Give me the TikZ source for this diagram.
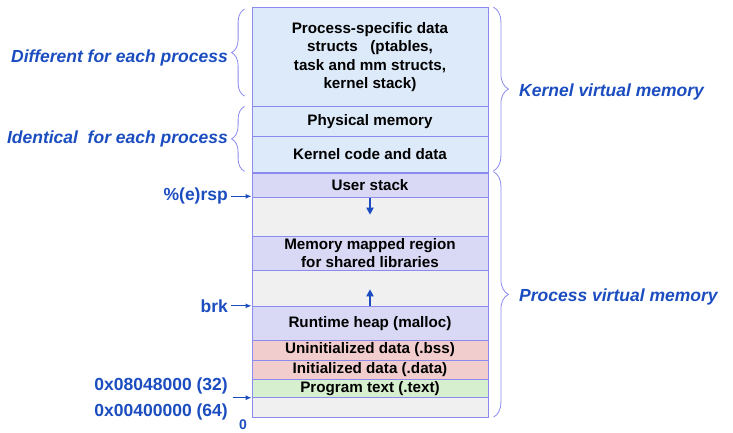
\documentclass[tikz,border=0pt]{standalone}
\usepackage{fontspec}
\setmainfont{Liberation Sans}
\usepackage{tikz}
\usepackage{xcolor}
\usetikzlibrary{arrows.meta, positioning, calc, decorations.pathreplacing}

\definecolor{kernfill}{HTML}{DCEAF9}
\definecolor{userfill}{HTML}{D9D9F5}
\definecolor{gapfill}{HTML}{F0F0F0}
\definecolor{datafill}{HTML}{F2CDCD}
\definecolor{textfill}{HTML}{D6F0CF}
\definecolor{edge}{HTML}{8A8AEF}
\definecolor{lab}{HTML}{1B4DC0}

\tikzset{
  row/.style={draw=edge, line width=0.8pt, minimum width=236, inner sep=0pt,
    align=center, font=\fontsize{15.2}{18.3}\selectfont\bfseries},
  tag/.style={text=lab, inner xsep=2.5pt, inner ysep=0pt,
    font=\fontsize{17.5}{21}\selectfont\bfseries},
  side/.style={tag, font=\fontsize{17.5}{21}\selectfont\bfseries\itshape},
  ptr/.style={-{Latex[length=6pt,width=5pt]}, draw=lab, line width=1.2pt},
  growarrow/.style={-{Triangle[length=7pt,width=7pt]}, draw=lab, line width=1.8pt},
  cbrace/.style={draw=edge, line width=0.8pt, decorate}
}

\begin{document}
\begin{tikzpicture}[x=1pt, y=-1pt]
\useasboundingbox (0,0) rectangle (733,432);

% Memory layout, top to bottom
\foreach \name/\top/\bot/\col/\txt in {
    procdata/7.5/106.7/kernfill/{Process-specific data\\structs\ \ \ (ptables,\\task and mm structs,\\kernel stack)},
    physmem/106.7/136/kernfill/{Physical memory},
    kcode/136/172.5/kernfill/{Kernel code and data},
    ustack/172.5/197.3/userfill/{User stack},
    gapa/197.3/236/gapfill/{},
    mmap/236/270/userfill/{Memory mapped region\\for shared libraries},
    gapb/270/306.7/gapfill/{},
    heap/306.7/340/userfill/{Runtime heap (malloc)},
    bss/340/360/datafill/{Uninitialized data (.bss)},
    idata/360/379.3/datafill/{Initialized data (.data)},
    ptext/379.3/397.3/textfill/{Program text (.text)},
    gapc/397.3/417.3/gapfill/{}} {
    \node[row, fill=\col, minimum height={\bot-\top}] (\name) at (370,{(\top+\bot)/2}) {\txt};
}
\draw[draw=edge, line width=1.8pt] (kcode.south west) -- (kcode.south east);

% Growth arrows
\coordinate (stackend) at ($(ustack.south)+(0,17)$);
\draw[growarrow] (ustack.south) -- (stackend);
\coordinate (heapend) at ($(heap.north)+(0,-17)$);
\draw[growarrow] (heap.north) -- (heapend);

% Pointers on the left
\node[tag, anchor=east] (rsp) at (230.5,196.3) {\%(e)rsp};
\draw[ptr] (rsp.east) -- (rsp.east -| ustack.west);
\node[tag, anchor=east] (brk) at (230.5,305.8) {brk};
\draw[ptr] (brk.east) -- (brk.east -| heap.west);
\node[tag, anchor=east] (addr32) at (230.5,385.5) {0x08048000 (32)};
\node[tag, anchor=east] (addr64) at (230.5,412) {0x00400000 (64)};
\coordinate (addrtail) at ($(ptext.south west)+(-19,0)$);
\draw[ptr] (addrtail) -- (ptext.south west);
\node[text=lab, font=\fontsize{14}{16}\selectfont\bfseries, inner sep=0pt] (zero) at (243,425) {0};

% Braces and their labels
\draw[cbrace, decoration={brace, amplitude=13pt}]
    ($(procdata.south west)+(-7,-11)$) -- ($(procdata.north west)+(-7,2)$);
\node[side, anchor=east] (diff) at (230.5,58) {Different for each process};
\draw[cbrace, decoration={brace, amplitude=13pt}]
    ($(kcode.south west)+(-7,-1.5)$) -- ($(physmem.north west)+(-7,0)$);
\node[side, anchor=east] (ident) at (230.5,138.5) {Identical\ \ for each process};
\draw[cbrace, decoration={brace, amplitude=15pt}]
    ($(procdata.north east)+(5,0)$) -- ($(kcode.south east)+(5,-2)$);
\node[side, anchor=west] (kvm) at (516.5,92) {Kernel virtual memory};
\draw[cbrace, decoration={brace, amplitude=15pt}]
    ($(ustack.north east)+(5,-0.5)$) -- ($(gapc.south east)+(5,-0.5)$);
\node[side, anchor=west] (pvm) at (516.5,297) {Process virtual memory};
\end{tikzpicture}
\end{document}
